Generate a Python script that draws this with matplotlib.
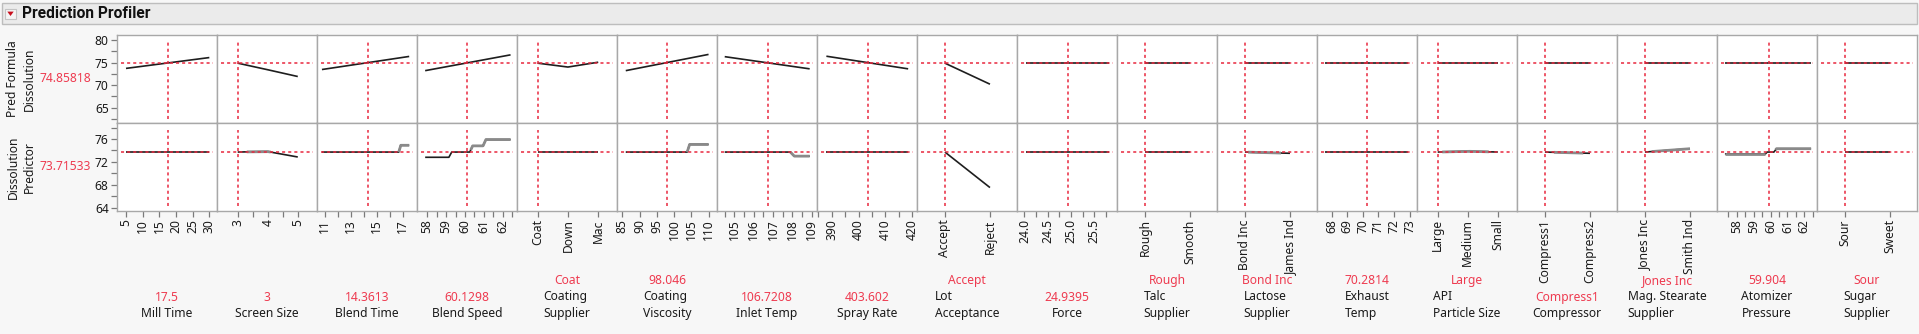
import matplotlib
matplotlib.use("Agg")
import matplotlib.pyplot as plt
import numpy as np
from matplotlib.patches import Rectangle, Polygon

plt.rcParams['font.family'] = ['Noto Sans', 'DejaVu Sans']

# ---------------- data ----------------
pred_formula_value = 74.85818
predictor_value = 73.71533

factor_names = ["Mill Time", "Screen Size", "Blend Time", "Blend Speed",
                "Coating\nSupplier", "Coating\nViscosity", "Inlet Temp", "Spray Rate",
                "Lot\nAcceptance", "Force", "Talc\nSupplier", "Lactose\nSupplier",
                "Exhaust\nTemp", "API\nParticle Size", "Compressor",
                "Mag. Stearate\nSupplier", "Atomizer\nPressure", "Sugar\nSupplier"]

current_settings = ["17.5", "3", "14.3613", "60.1298", "Coat", "98.046", "106.7208",
                    "403.602", "Accept", "24.9395", "Rough", "Bond Inc", "70.2814",
                    "Large", "Compress1", "Jones Inc", "59.904", "Sour"]

# continuous factors: x grid, Pred Formula Dissolution trace, Dissolution Predictor trace
mill_x = [5, 30]
mill_top = [73.7, 76.1]
mill_bot_x = [5, 30]
mill_bot = [73.715, 73.715]

screen_x = [3, 4, 5]
screen_top = [74.86, 73.4, 71.9]
screen_bot_x = [3, 3.3, 4, 5]
screen_bot = [73.715, 73.75, 73.8, 72.85]

blendt_x = [10.8, 17.5]
blendt_top = [73.45, 76.35]
blendt_bot_x = [10.8, 16.7, 16.85, 17.5]
blendt_bot = [73.715, 73.715, 74.9, 74.9]

blends_x = [57.9, 62.4]
blends_top = [73.2, 76.7]
blends_bot_x = [57.9, 59.15, 59.3, 60.25, 60.4, 60.95, 61.1, 62.4]
blends_bot = [72.8, 72.8, 73.715, 73.715, 74.8, 74.8, 75.9, 75.9]

coatv_x = [86, 110]
coatv_top = [73.2, 76.8]
coatv_bot_x = [86, 103.8, 104.5, 110]
coatv_bot = [73.715, 73.715, 75.05, 75.05]

inlet_x = [104.5, 108.9]
inlet_top = [76.3, 73.6]
inlet_bot_x = [104.5, 107.9, 108.1, 108.9]
inlet_bot = [73.715, 73.715, 73.0, 73.0]

spray_x = [388, 418.5]
spray_top = [76.4, 73.6]
spray_bot_x = [388, 418.5]
spray_bot = [73.715, 73.715]

force_x = [24.03, 25.82]
force_top = [74.858, 74.858]
force_bot_x = [24.03, 25.82]
force_bot = [73.715, 73.715]

exhaust_x = [67.6, 72.9]
exhaust_top = [74.858, 74.858]
exhaust_bot_x = [67.6, 72.9]
exhaust_bot = [73.715, 73.715]

atom_x = [57.3, 62.4]
atom_top = [74.858, 74.858]
atom_bot_x = [57.3, 59.7, 59.8, 60.2, 60.35, 62.4]
atom_bot = [73.4, 73.4, 73.715, 73.715, 74.3, 74.3]

# categorical factors: levels and traces
coats_levels = ["Coat", "Down", "Mac"]
coats_top = [74.86, 74.0, 75.07]
coats_bot = [73.715, 73.715, 73.715]

lot_levels = ["Accept", "Reject"]
lot_top = [74.86, 70.2]
lot_bot = [73.715, 67.5]

talc_levels = ["Rough", "Smooth"]
talc_top = [74.858, 74.858]
talc_bot = [73.715, 73.715]

lactose_levels = ["Bond Inc", "James Ind"]
lactose_top = [74.858, 74.858]
lactose_bot = [73.715, 73.5]

api_levels = ["Large", "Medium", "Small"]
api_top = [74.858, 74.858, 74.858]
api_bot = [73.715, 73.85, 73.72]

comp_levels = ["Compress1", "Compress2"]
comp_top = [74.858, 74.858]
comp_bot = [73.715, 73.5]

mag_levels = ["Jones Inc", "Smith Ind"]
mag_top = [74.858, 74.858]
mag_bot = [73.715, 74.3]

sugar_levels = ["Sour", "Sweet"]
sugar_top = [74.858, 74.858]
sugar_bot = [73.715, 73.715]

# ---------------- panel specs ----------------
# "shade" lists the x-ranges of the predictor trace drawn as a lighter, heavier stroke
panels = [
    dict(kind="c", x=mill_x, top=mill_top, bx=mill_bot_x, bot=mill_bot, cur=17.5,
         xlim=(2.3, 32.3), ticks=[5, 10, 15, 20, 25, 30], minor=[], shade=[]),
    dict(kind="c", x=screen_x, top=screen_top, bx=screen_bot_x, bot=screen_bot, cur=3,
         xlim=(2.31, 5.64), ticks=[3, 4, 5], minor=[3.5, 4.5], shade=[(3.3, 4.1)]),
    dict(kind="c", x=blendt_x, top=blendt_top, bx=blendt_bot_x, bot=blendt_bot, cur=14.3613,
         xlim=(10.42, 18.1), ticks=[11, 13, 15, 17], minor=[12, 14, 16], shade=[(16.7, 17.5)]),
    dict(kind="c", x=blends_x, top=blends_top, bx=blends_bot_x, bot=blends_bot, cur=60.1298,
         xlim=(57.47, 62.74), ticks=[58, 59, 60, 61, 62], minor=[58.5, 59.5, 60.5, 61.5, 62.5],
         shade=[(60.3, 62.4)]),
    dict(kind="d", levels=coats_levels, top=coats_top, bot=coats_bot, xlim=(-0.68, 2.62), shade=[]),
    dict(kind="c", x=coatv_x, top=coatv_top, bx=coatv_bot_x, bot=coatv_bot, cur=98.046,
         xlim=(83.46, 112.45), ticks=[85, 90, 95, 100, 105, 110], minor=[], shade=[(103.8, 110)]),
    dict(kind="c", x=inlet_x, top=inlet_top, bx=inlet_bot_x, bot=inlet_bot, cur=106.7208,
         xlim=(104.1, 109.28), ticks=[105, 106, 107, 108, 109], minor=[104.5, 105.5, 106.5, 107.5, 108.5],
         shade=[(107.9, 108.9)]),
    dict(kind="c", x=spray_x, top=spray_top, bx=spray_bot_x, bot=spray_bot, cur=403.602,
         xlim=(384.5, 421.8), ticks=[390, 400, 410, 420], minor=[385, 395, 405, 415], shade=[]),
    dict(kind="d", levels=lot_levels, top=lot_top, bot=lot_bot, xlim=(-0.62, 1.6), shade=[]),
    dict(kind="c", x=force_x, top=force_top, bx=force_bot_x, bot=force_bot, cur=24.9395,
         xlim=(23.84, 25.99), ticks=[24.0, 24.5, 25.0, 25.5], minor=[24.25, 24.75, 25.25, 25.75],
         fmt="{:.1f}", shade=[]),
    dict(kind="d", levels=talc_levels, top=talc_top, bot=talc_bot, xlim=(-0.62, 1.6), shade=[]),
    dict(kind="d", levels=lactose_levels, top=lactose_top, bot=lactose_bot, xlim=(-0.62, 1.6),
         shade=[(0.07, 0.8)]),
    dict(kind="c", x=exhaust_x, top=exhaust_top, bx=exhaust_bot_x, bot=exhaust_bot, cur=70.2814,
         xlim=(67.06, 73.47), ticks=[68, 69, 70, 71, 72, 73], minor=[], shade=[]),
    dict(kind="d", levels=api_levels, top=api_top, bot=api_bot, xlim=(-0.69, 2.64), shade=[(0.15, 1.7)]),
    dict(kind="d", levels=comp_levels, top=comp_top, bot=comp_bot, xlim=(-0.62, 1.6), shade=[(0.2, 0.85)]),
    dict(kind="d", levels=mag_levels, top=mag_top, bot=mag_bot, xlim=(-0.62, 1.6), shade=[(0.15, 1.0)]),
    dict(kind="c", x=atom_x, top=atom_top, bx=atom_bot_x, bot=atom_bot, cur=59.904,
         xlim=(56.83, 62.75), ticks=[58, 59, 60, 61, 62], minor=[57.5, 58.5, 59.5, 60.5, 61.5, 62.5],
         shade=[(57.3, 59.7), (60.3, 62.4)]),
    dict(kind="d", levels=sugar_levels, top=sugar_top, bot=sugar_bot, xlim=(-0.62, 1.6), shade=[]),
]

# ---------------- styling ----------------
W, H = 1919, 334
BG = "#f7f7f7"
RED = "#e8283f"
RED_TXT = "#ee3b50"
FRAME = "#a8a8a8"
TXT = "#1a1a1a"
FS = 8.7

fig = plt.figure(figsize=(W / 100, H / 100), dpi=100, facecolor=BG)


def px_rect(x0, y0, x1, y1):
    return [x0 / W, 1 - y1 / H, (x1 - x0) / W, (y1 - y0) / H]


def fx(x):
    return x / W


def fy(y):
    return 1 - y / H


# header bar
fig.add_artist(Rectangle((fx(2), fy(23.5)), (1917 - 2) / W, 21 / H, transform=fig.transFigure,
                         facecolor="#ebebeb", edgecolor="#bdbdbd", lw=1))
fig.add_artist(Rectangle((fx(5), fy(18.5)), 11 / W, 9.5 / H, transform=fig.transFigure,
                         facecolor="#f4f4f4", edgecolor="#c4c4c4", lw=0.8))
fig.add_artist(Polygon([(fx(7.3), fy(11.6)), (fx(13.7), fy(11.6)), (fx(10.5), fy(16.0))],
                       closed=True, transform=fig.transFigure, facecolor="#c8101e", edgecolor="none"))
fig.text(fx(21.5), fy(13.5), "Prediction Profiler", fontsize=11.2, fontweight="bold",
         family=["Roboto", "DejaVu Sans"], color="#111111", va="center", ha="left")

# response labels on the left
fig.text(fx(21), fy(79), "Pred Formula\nDissolution", rotation=90, ha="center", va="center",
         fontsize=FS, color=TXT, linespacing=1.3)
fig.text(fx(65), fy(79), f"{pred_formula_value:.5f}", ha="center", va="center",
         fontsize=FS, color=RED_TXT)
fig.text(fx(21), fy(167), "Dissolution\nPredictor", rotation=90, ha="center", va="center",
         fontsize=FS, color=TXT, linespacing=1.3)
fig.text(fx(65), fy(167), f"{predictor_value:.5f}", ha="center", va="center",
         fontsize=FS, color=RED_TXT)

TOP_YLIM = (61.6, 81.1)
BOT_YLIM = (63.4, 78.8)
LINE_KW = dict(color="#1e1e1e", lw=1.2, solid_capstyle="butt")
SHADE_KW = dict(color="#8a8a8a", lw=2.0, solid_capstyle="butt")
DASH_KW = dict(color=RED, lw=1.1, ls=(0, (2, 2)))

for i, p in enumerate(panels):
    x0 = 117 + 100 * i
    ax_t = fig.add_axes(px_rect(x0, 35, x0 + 100, 123))
    ax_b = fig.add_axes(px_rect(x0, 123, x0 + 100, 211))
    for ax in (ax_t, ax_b):
        ax.set_facecolor("white")
        for s in ax.spines.values():
            s.set_color(FRAME)
            s.set_linewidth(1.0)
        ax.set_xlim(*p["xlim"])
        ax.tick_params(axis="both", which="both", length=4, width=0.9, color="#7a7a7a",
                       labelsize=FS, labelcolor=TXT, pad=2)

    ax_t.set_ylim(*TOP_YLIM)
    ax_b.set_ylim(*BOT_YLIM)

    if p["kind"] == "c":
        cur = p["cur"]
        tx, bx = p["x"], p["bx"]
    else:
        cur = 0
        tx = bx = list(range(len(p["levels"])))
    ax_t.plot(tx, p["top"], **LINE_KW)
    ax_b.plot(bx, p["bot"], **LINE_KW)
    for a, b in p["shade"]:
        sx = np.linspace(a, b, 200)
        ax_b.plot(sx, np.interp(sx, bx, p["bot"]), **SHADE_KW)

    # current setting crosshairs
    ax_t.axhline(pred_formula_value, xmin=0.04, xmax=0.96, **DASH_KW)
    ax_b.axhline(predictor_value, xmin=0.04, xmax=0.96, **DASH_KW)
    ax_t.axvline(cur, ymin=0.04, ymax=0.92, **DASH_KW)
    ax_b.axvline(cur, ymin=0.06, ymax=0.92, **DASH_KW)

    # y axis only on first column
    if i == 0:
        ax_t.set_yticks([65, 70, 75, 80])
        ax_t.set_yticks([62.5, 67.5, 72.5, 77.5], minor=True)
        ax_b.set_yticks([64, 68, 72, 76])
        ax_b.set_yticks([66, 70, 74, 78], minor=True)
        for ax in (ax_t, ax_b):
            ax.tick_params(axis="y", which="minor", labelleft=False)
    else:
        for ax in (ax_t, ax_b):
            ax.set_yticks([])
            ax.set_yticks([], minor=True)

    ax_t.set_xticks([])
    # x axis on the bottom row
    if p["kind"] == "c":
        fmt = p.get("fmt", "{:g}")
        ax_b.set_xticks(p["ticks"])
        ax_b.set_xticklabels([fmt.format(t) for t in p["ticks"]], rotation=90)
        ax_b.set_xticks(p["minor"], minor=True)
    else:
        ax_b.set_xticks(list(range(len(p["levels"]))))
        ax_b.set_xticklabels(p["levels"], rotation=90)

    # factor name and current setting below
    cx = fx(x0 + 50)
    n_lines = factor_names[i].count("\n") + 1
    fig.text(cx, fy(320), factor_names[i], ha="center", va="bottom", multialignment="left",
             fontsize=FS, color=TXT, linespacing=1.38)
    fig.text(cx, fy(320 - 16.4 * n_lines), current_settings[i], ha="center", va="bottom",
             fontsize=FS, color=RED_TXT)

fig.savefig("out.png", dpi=100, facecolor=BG)
